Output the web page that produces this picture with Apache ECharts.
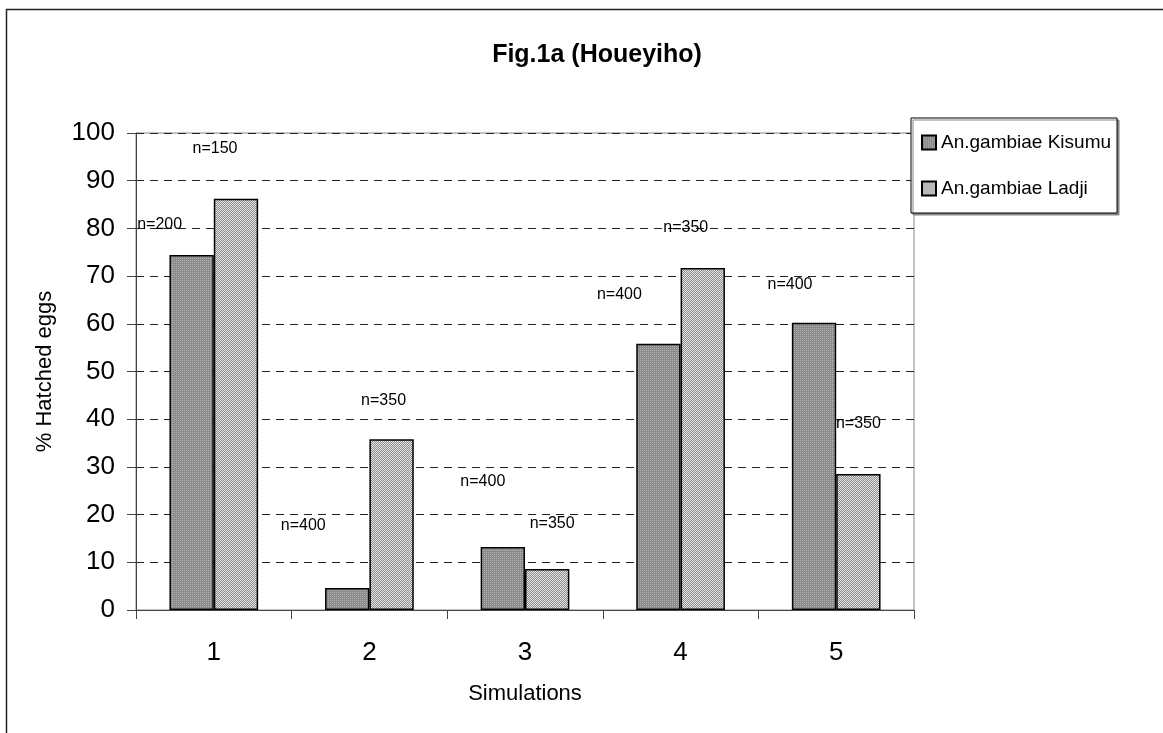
<!DOCTYPE html>
<html>
<head>
<meta charset="utf-8">
<script src="https://cdn.jsdelivr.net/npm/echarts@6/dist/echarts.min.js"></script>
<style>html,body{margin:0;padding:0;background:#fff;}#c{width:1163px;height:733px;}</style>
</head>
<body>
<div id="c"></div>
<script>
const categories = ['1', '2', '3', '4', '5'];
const kisumu = [74.4, 4.6, 13.2, 55.8, 60.2];
const ladji = [86.2, 35.8, 8.6, 71.7, 28.5];
const nKisumu = [200, 400, 400, 400, 400];
const nLadji = [150, 350, 350, 350, 350];
const yTicks = { min: 0, max: 100, interval: 10 };

// annotation placement (style): height in data units and x offset in px from bar centre
const kLabelY = [80.9, 17.8, 27.0, 66.2, 68.3];
const kLabelDx = [-32, -44, -20, -39, -24];
const lLabelY = [96.8, 44.0, 18.2, 80.1, 39.0];
const lLabelDx = [-21, -8, 5, -17, 0];

function pattern(fn) {
  const c = document.createElement('canvas');
  c.width = 4; c.height = 4;
  const g = c.getContext('2d');
  for (let y = 0; y < 4; y++) for (let x = 0; x < 4; x++) {
    g.fillStyle = fn(x, y); g.fillRect(x, y, 1, 1);
  }
  return { image: c, repeat: 'repeat' };
}
const kFill = pattern((x, y) => (x % 2 === 0 && y % 2 === 0) ? '#b4b4b4' : '#8a8a8a');
const lFill = pattern((x, y) => ((x + y) % 2 === 0) ? '#e6e6e6' : '#8c8c8c');

const FONT = '"Liberation Sans", Arial, Helvetica, sans-serif';

function marks(labelsY, dx, nVals) {
  return categories.map((c, i) => ({
    coord: [c, labelsY[i]],
    value: 'n=' + nVals[i],
    label: { offset: [dx[i], 0] }
  }));
}

const chart = echarts.init(document.getElementById('c'), null, { renderer: 'canvas' });
chart.setOption({
  animation: false,
  backgroundColor: '#fff',
  textStyle: { fontFamily: FONT },
  title: {
    text: 'Fig.1a (Houeyiho)',
    left: 592, top: 38, textAlign: 'center',
    textStyle: { fontFamily: FONT, fontSize: 25, fontWeight: 'bold', color: '#000' }
  },
  graphic: [{
    type: 'rect', silent: true, z: -1,
    shape: { x: 6.5, y: 9.5, width: 1400, height: 1000 },
    style: { fill: null, stroke: '#222', lineWidth: 1.5 }
  }],
  legend: {
    orient: 'vertical',
    left: 911, top: 118,
    padding: [15, 6, 15, 10],
    itemGap: 27,
    itemWidth: 14, itemHeight: 14,
    icon: 'rect',
    backgroundColor: '#fff',
    borderColor: '#000', borderWidth: 1,
    shadowColor: '#888', shadowOffsetX: 2, shadowOffsetY: 2, shadowBlur: 0,
    textStyle: { fontFamily: FONT, fontSize: 19, color: '#000' },
    data: ['An.gambiae Kisumu', 'An.gambiae Ladji']
  },
  grid: {
    left: 136, right: 249, top: 133, bottom: 123,
    show: true, borderColor: '#888', borderWidth: 1, backgroundColor: 'transparent'
  },
  xAxis: {
    type: 'category',
    data: categories,
    name: 'Simulations',
    nameLocation: 'middle',
    nameGap: 73,
    nameTextStyle: { fontFamily: FONT, fontSize: 22, color: '#000' },
    axisLine: { lineStyle: { color: '#444', width: 1 } },
    axisTick: { show: true, length: 9, lineStyle: { color: '#444' } },
    axisLabel: { fontFamily: FONT, fontSize: 26, color: '#000', margin: 30 },
    splitLine: { show: false }
  },
  yAxis: {
    type: 'value',
    min: yTicks.min, max: yTicks.max, interval: yTicks.interval,
    name: '% Hatched eggs',
    nameLocation: 'middle',
    nameGap: 80,
    nameTextStyle: { fontFamily: FONT, fontSize: 22, color: '#000' },
    axisLine: { show: true, lineStyle: { color: '#444', width: 1 } },
    axisTick: { show: true, length: 9, lineStyle: { color: '#444' } },
    axisLabel: { fontFamily: FONT, fontSize: 26, color: '#000', margin: 21 },
    splitLine: { show: true, lineStyle: { color: '#222', width: 1, type: [8, 6] } }
  },
  series: [
    {
      name: 'An.gambiae Kisumu', type: 'bar', data: kisumu,
      barGap: '0%', barCategoryGap: '43%',
      itemStyle: { color: kFill, borderColor: '#000', borderWidth: 1.5 },
      markPoint: {
        symbol: 'rect', symbolSize: 0, silent: true,
        label: { show: true, position: 'inside', formatter: p => p.value, fontFamily: FONT, fontSize: 16, color: '#000' },
        data: marks(kLabelY, kLabelDx, nKisumu)
      }
    },
    {
      name: 'An.gambiae Ladji', type: 'bar', data: ladji,
      barGap: '0%', barCategoryGap: '43%',
      itemStyle: { color: lFill, borderColor: '#000', borderWidth: 1.5 },
      markPoint: {
        symbol: 'rect', symbolSize: 0, silent: true,
        label: { show: true, position: 'inside', formatter: p => p.value, fontFamily: FONT, fontSize: 16, color: '#000' },
        data: marks(lLabelY, lLabelDx, nLadji)
      }
    }
  ]
});
</script>
</body>
</html>
